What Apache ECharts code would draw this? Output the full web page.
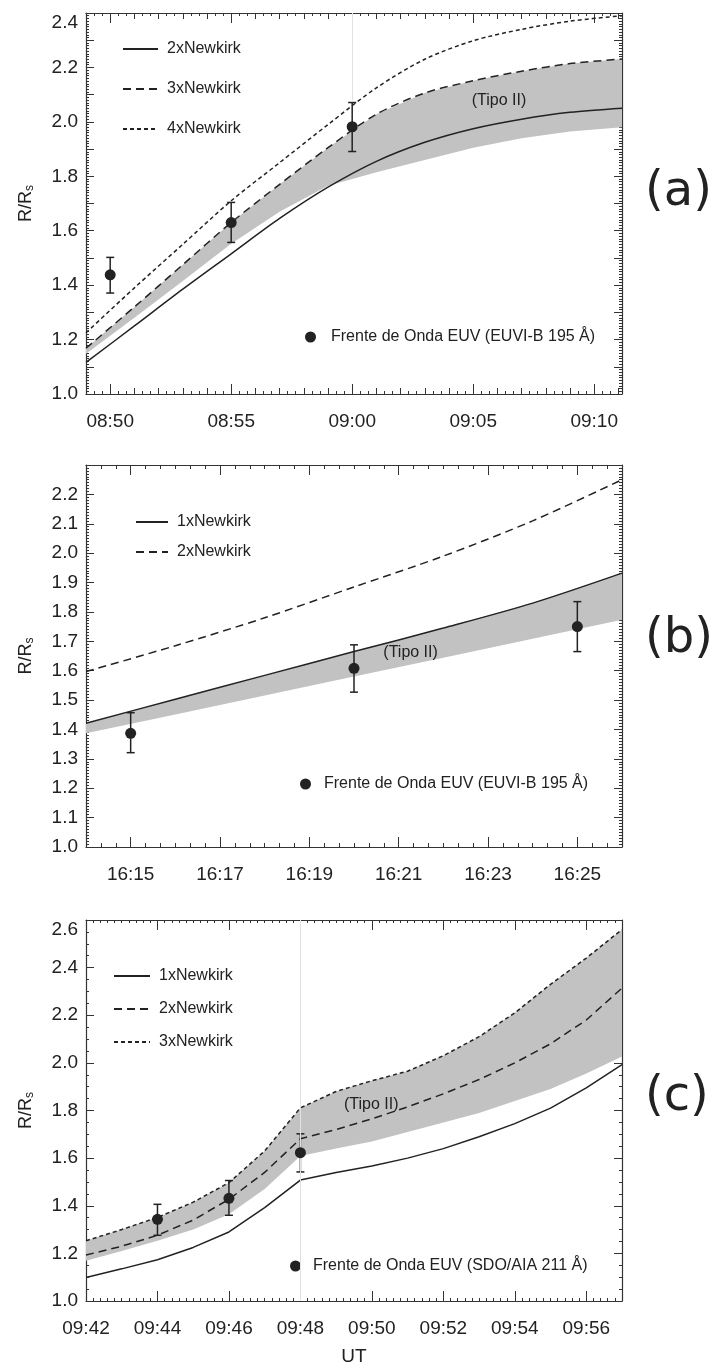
<!DOCTYPE html>
<html>
<head>
<meta charset="utf-8">
<script src="https://cdn.jsdelivr.net/npm/echarts@6/dist/echarts.min.js"></script>
<style>
  html, body { margin: 0; padding: 0; background: #fff; }
  #chart { width: 719px; height: 1367px; }
</style>
</head>
<body>
<div id="chart"></div>
<script>
// time strings -> minutes of the day
const hm = s => { const p = s.split(':').map(Number); return p[0] * 60 + p[1] + (p[2] || 0) / 60; };
const fmtHM = m => {
  const h = Math.floor(m / 60), mm = Math.round(m - h * 60);
  return String(h).padStart(2, '0') + ':' + String(mm).padStart(2, '0');
};

// ---- (a) EUVI-B, 08:49 - 09:11 UT
const aTime = ['08:49', '08:51', '08:53', '08:55', '08:57', '08:59', '09:01', '09:03', '09:05', '09:07', '09:09', '09:11:09'];
const aNewkirk2 = [1.116, 1.25, 1.385, 1.515, 1.645, 1.76, 1.855, 1.925, 1.975, 2.01, 2.035, 2.05];
const aNewkirk3 = [1.168, 1.32, 1.475, 1.63, 1.77, 1.905, 2.028, 2.106, 2.151, 2.186, 2.214, 2.231];
const aNewkirk4 = [1.225, 1.39, 1.55, 1.71, 1.85, 1.99, 2.125, 2.23, 2.298, 2.34, 2.37, 2.39];
const aBandLow = [1.148, 1.28, 1.415, 1.552, 1.67, 1.765, 1.815, 1.86, 1.905, 1.94, 1.965, 1.98];
const aObsTime = ['08:50', '08:55', '09:00'];
const aObs = [1.438, 1.630, 1.982];
const aObsLow = [1.371, 1.557, 1.891];
const aObsHigh = [1.502, 1.704, 2.071];
const aXTicks = ['08:50', '08:55', '09:00', '09:05', '09:10'];
const aYTicks = [1.0, 1.2, 1.4, 1.6, 1.8, 2.0, 2.2, 2.4];
const aTipo = ['09:06:04', 2.078];
const aGuide = [['09:00', 2.08]];

// ---- (b) EUVI-B, 16:14 - 16:26 UT
const bTime = ['16:14', '16:16', '16:18', '16:20', '16:22', '16:24', '16:26'];
const bNewkirk1 = [1.421, 1.503, 1.584, 1.665, 1.745, 1.830, 1.932];
const bNewkirk2 = [1.597, 1.685, 1.78, 1.885, 1.99, 2.11, 2.25];
const bBandLow = [1.387, 1.451, 1.516, 1.58, 1.644, 1.709, 1.773];
const bObsTime = ['16:15', '16:20', '16:25'];
const bObs = [1.387, 1.608, 1.750];
const bObsLow = [1.321, 1.527, 1.665];
const bObsHigh = [1.457, 1.688, 1.835];
const bXTicks = ['16:15', '16:17', '16:19', '16:21', '16:23', '16:25'];
const bYTicks = [1.0, 1.1, 1.2, 1.3, 1.4, 1.5, 1.6, 1.7, 1.8, 1.9, 2.0, 2.1, 2.2];
const bTipo = ['16:21:16', 1.661];

// ---- (c) SDO/AIA, 09:42 - 09:57 UT
const cTime = ['09:42', '09:43', '09:44', '09:45', '09:46', '09:47', '09:48', '09:49', '09:50', '09:51', '09:52', '09:53', '09:54', '09:55', '09:56', '09:57'];
const cNewkirk1 = [1.099, 1.135, 1.173, 1.225, 1.290, 1.392, 1.508, 1.54, 1.567, 1.60, 1.64, 1.69, 1.745, 1.81, 1.895, 1.993];
const cNewkirk2 = [1.193, 1.23, 1.276, 1.34, 1.427, 1.54, 1.681, 1.72, 1.765, 1.815, 1.87, 1.93, 2.0, 2.08, 2.18, 2.314];
const cNewkirk3 = [1.253, 1.30, 1.351, 1.415, 1.497, 1.63, 1.811, 1.88, 1.925, 1.965, 2.03, 2.11, 2.21, 2.33, 2.44, 2.56];
const cBandLow = [1.169, 1.21, 1.253, 1.30, 1.364, 1.47, 1.609, 1.64, 1.67, 1.71, 1.75, 1.79, 1.84, 1.89, 1.955, 2.027];
const cObsTime = ['09:44', '09:46', '09:48'];
const cObs = [1.343, 1.431, 1.623];
const cObsLow = [1.276, 1.360, 1.542];
const cObsHigh = [1.406, 1.506, 1.702];
const cXTicks = ['09:42', '09:44', '09:46', '09:48', '09:50', '09:52', '09:54', '09:56'];
const cYTicks = [1.0, 1.2, 1.4, 1.6, 1.8, 2.0, 2.2, 2.4, 2.6];
const cTipo = ['09:49:59', 1.825];
const cGuide = [['09:48', 1.0]];

const INK = '#222';
const BAND = '#c2c2c2';
const FONT = '"Liberation Sans", Arial, Helvetica, sans-serif';
const LONG = [8, 5], SHORT = [4, 3];

const panels = [
  {
    id: 'a', grid: { left: 86, top: 13, width: 536, height: 381 },
    x: { min: '08:49', max: '09:11:09', ticks: aXTicks, step: 1, split: 3 },
    y: { min: 1.0, max: 2.4, ticks: aYTicks, step: 0.1, split: 10 },
    time: aTime, smooth: 0.3,
    lines: [['2xNewkirk', aNewkirk2, 'solid'], ['3xNewkirk', aNewkirk3, LONG], ['4xNewkirk', aNewkirk4, SHORT]],
    band: [aBandLow, aNewkirk3], tipo: aTipo, guide: aGuide,
    obs: [aObsTime, aObs, aObsLow, aObsHigh], obsName: 'Frente de Onda EUV (EUVI-B 195 Å)',
    legend: { left: 122, top: 41, gap: 24, w: 35 }, obsLegend: { left: 305, top: 329, pad: 10 },
    tag: '(a)', tagPos: { left: 645, top: 169 }
  },
  {
    id: 'b', grid: { left: 86, top: 465, width: 536, height: 382 },
    x: { min: '16:14', max: '16:26', ticks: bXTicks, step: 1 / 3, split: 0 },
    y: { min: 1.0, max: 2.3, ticks: bYTicks, step: 0.1, split: 10 },
    time: bTime, smooth: 0.3,
    lines: [['1xNewkirk', bNewkirk1, 'solid'], ['2xNewkirk', bNewkirk2, LONG]],
    band: [bBandLow, bNewkirk1], tipo: bTipo,
    obs: [bObsTime, bObs, bObsLow, bObsHigh], obsName: 'Frente de Onda EUV (EUVI-B 195 Å)',
    legend: { left: 135, top: 514, gap: 14, w: 32 }, obsLegend: { left: 300, top: 776, pad: 8 },
    tag: '(b)', tagPos: { left: 645, top: 616 }
  },
  {
    id: 'c', grid: { left: 86, top: 920, width: 536, height: 382 },
    x: { min: '09:42', max: '09:57', ticks: cXTicks, step: 2, split: 10, name: 'UT' },
    y: { min: 1.0, max: 2.6, ticks: cYTicks, step: 0.2, split: 4 },
    time: cTime, smooth: false,
    lines: [['1xNewkirk', cNewkirk1, 'solid'], ['2xNewkirk', cNewkirk2, LONG], ['3xNewkirk', cNewkirk3, SHORT]],
    band: [cBandLow, cNewkirk3], tipo: cTipo, guide: cGuide,
    obs: [cObsTime, cObs, cObsLow, cObsHigh], obsName: 'Frente de Onda EUV (SDO/AIA 211 Å)',
    legend: { left: 113, top: 968, gap: 17, w: 36 }, obsLegend: { left: 290, top: 1258, pad: 7 },
    tag: '(c)', tagPos: { left: 645, top: 1074 }
  }
];

const frame = { show: true, lineStyle: { color: '#333', width: 1.2 } };
const option = {
  animation: false,
  backgroundColor: '#fff',
  textStyle: { fontFamily: FONT, color: INK },
  grid: [], xAxis: [], yAxis: [], series: [], legend: [], title: []
};

panels.forEach((p, gi) => {
  option.grid.push(Object.assign({ show: false }, p.grid));
  const xmin = hm(p.x.min), xmax = hm(p.x.max);
  const xt = p.x.ticks.map(hm);
  const xi = option.xAxis.length;
  ['bottom', 'top'].forEach(pos => {
    // major ticks (labelled at the bottom)
    option.xAxis.push({
      type: 'value', gridIndex: gi, position: pos, min: xmin, max: xmax,
      axisLine: frame, splitLine: { show: false },
      axisTick: { show: true, inside: true, length: 10, customValues: xt, lineStyle: { color: '#333' } },
      axisLabel: {
        show: pos === 'bottom', customValues: xt, formatter: fmtHM,
        margin: 18, fontSize: 19, color: INK, fontFamily: FONT
      },
      name: pos === 'bottom' && p.x.name ? p.x.name : '',
      nameLocation: 'middle', nameGap: 46,
      nameTextStyle: { fontSize: 19, color: INK, fontFamily: FONT }
    });
    // minor ticks
    option.xAxis.push({
      type: 'value', gridIndex: gi, position: pos, min: xmin, max: xmax, interval: p.x.step,
      axisLine: { show: false }, splitLine: { show: false }, axisLabel: { show: false },
      axisTick: { show: true, inside: true, length: p.x.split ? 6 : 4, lineStyle: { color: '#333' } },
      minorTick: { show: p.x.split > 0, splitNumber: p.x.split || 5, length: 3, lineStyle: { color: '#333' } },
      minorSplitLine: { show: false }
    });
  });
  const yi = option.yAxis.length;
  const topLabel = p.y.ticks[p.y.ticks.length - 1] === p.y.max;
  ['left', 'right'].forEach(pos => {
    option.yAxis.push({
      type: 'value', gridIndex: gi, position: pos, min: p.y.min, max: p.y.max, interval: p.y.step,
      axisLine: frame, splitLine: { show: false }, minorSplitLine: { show: false },
      axisTick: { show: true, inside: true, length: 8, lineStyle: { color: '#333' } },
      minorTick: { show: true, splitNumber: p.y.split, length: 3, lineStyle: { color: '#333' } },
      axisLabel: {
        show: pos === 'left', customValues: p.y.ticks, formatter: v => v.toFixed(1),
        margin: 8, fontSize: 19, color: INK, fontFamily: FONT,
        verticalAlignMaxLabel: topLabel ? 'top' : null
      },
      name: pos === 'left' ? '{r|R/R}{s|s}' : '',
      nameLocation: 'middle', nameGap: 50,
      nameTextStyle: {
        color: INK,
        rich: {
          r: { fontSize: 18, color: INK, fontFamily: FONT },
          s: { fontSize: 12, color: INK, fontFamily: FONT, padding: [8, 0, 0, 0] }
        }
      }
    });
  });

  const t = p.time.map(hm);
  const [low, high] = p.band;
  // grey band (Tipo II) between its lower edge and the upper Newkirk curve
  option.series.push({
    type: 'custom', name: p.id + '|band', xAxisIndex: xi, yAxisIndex: yi, silent: true, z: 1, clip: true,
    data: t.map((x, i) => [x, low[i], high[i]]),
    renderItem(params, api) {
      if (params.dataIndex !== 0) return null;
      const up = t.map((x, i) => api.coord([x, high[i]]));
      const dn = t.map((x, i) => api.coord([x, low[i]])).reverse();
      return { type: 'polygon', shape: { points: up.concat(dn) }, style: { fill: BAND } };
    },
    markPoint: {
      symbol: 'circle', symbolSize: 1, itemStyle: { color: 'transparent' }, silent: true,
      label: { show: true, position: 'inside', formatter: '(Tipo II)', fontSize: 16, color: INK, fontFamily: FONT },
      data: [{ coord: [hm(p.tipo[0]), p.tipo[1]] }]
    }
  });
  p.lines.forEach(([name, vals, dash]) => {
    option.series.push({
      type: 'line', name: p.id + '|' + name, xAxisIndex: xi, yAxisIndex: yi,
      smooth: p.smooth, symbol: 'none', z: 3,
      lineStyle: { color: INK, width: 1.5, type: dash },
      itemStyle: { color: INK },
      data: t.map((x, i) => [x, vals[i]])
    });
  });
  const [ot, ov, olo, ohi] = p.obs;
  option.series.push({
    type: 'custom', name: p.id + '|err', xAxisIndex: xi, yAxisIndex: yi, silent: true, z: 4,
    data: ot.map((s, i) => [hm(s), olo[i], ohi[i]]),
    renderItem(params, api) {
      const a = api.coord([api.value(0), api.value(1)]);
      const b = api.coord([api.value(0), api.value(2)]);
      const st = { stroke: INK, lineWidth: 1.5 };
      return {
        type: 'group', children: [
          { type: 'line', shape: { x1: a[0], y1: a[1], x2: b[0], y2: b[1] }, style: st },
          { type: 'line', shape: { x1: a[0] - 4, y1: a[1], x2: a[0] + 4, y2: a[1] }, style: st },
          { type: 'line', shape: { x1: b[0] - 4, y1: b[1], x2: b[0] + 4, y2: b[1] }, style: st }
        ]
      };
    }
  });
  const dots = {
    type: 'scatter', name: p.id + '|' + p.obsName, xAxisIndex: xi, yAxisIndex: yi, z: 5,
    symbol: 'circle', symbolSize: 11, itemStyle: { color: INK, opacity: 1 },
    data: ot.map((s, i) => [hm(s), ov[i]])
  };
  if (p.guide) {
    dots.markLine = {
      silent: true, symbol: 'none', label: { show: false },
      lineStyle: { color: '#e2e2e2', width: 1, type: 'solid' },
      data: p.guide.map(([s, from]) => [{ coord: [hm(s), from] }, { coord: [hm(s), p.y.max] }])
    };
  }
  option.series.push(dots);

  option.legend.push({
    orient: 'vertical', left: p.legend.left, top: p.legend.top, itemGap: p.legend.gap, padding: 0,
    itemWidth: p.legend.w, itemHeight: 14, selectedMode: false,
    itemStyle: { color: 'transparent', borderWidth: 0, opacity: 0 },
    data: p.lines.map(l => p.id + '|' + l[0]),
    formatter: n => n.split('|')[1],
    textStyle: { fontSize: 16, color: INK, fontFamily: FONT, padding: [0, 0, 0, 4] }
  });
  option.legend.push({
    orient: 'vertical', left: p.obsLegend.left, top: p.obsLegend.top, padding: 0,
    itemWidth: 11, itemHeight: 11, selectedMode: false, icon: 'circle',
    itemStyle: { color: INK, opacity: 1 },
    data: [p.id + '|' + p.obsName],
    formatter: n => n.split('|')[1],
    textStyle: { fontSize: 16, color: INK, fontFamily: FONT, padding: [0, 0, 0, p.obsLegend.pad] }
  });
  option.title.push({
    text: p.tag, left: p.tagPos.left, top: p.tagPos.top, padding: 0,
    textStyle: { fontSize: 48, fontWeight: 'normal', color: INK, fontFamily: '"DejaVu Sans", sans-serif' }
  });
});

const chart = echarts.init(document.getElementById('chart'), null, { renderer: 'canvas' });
chart.setOption(option);
</script>
</body>
</html>
